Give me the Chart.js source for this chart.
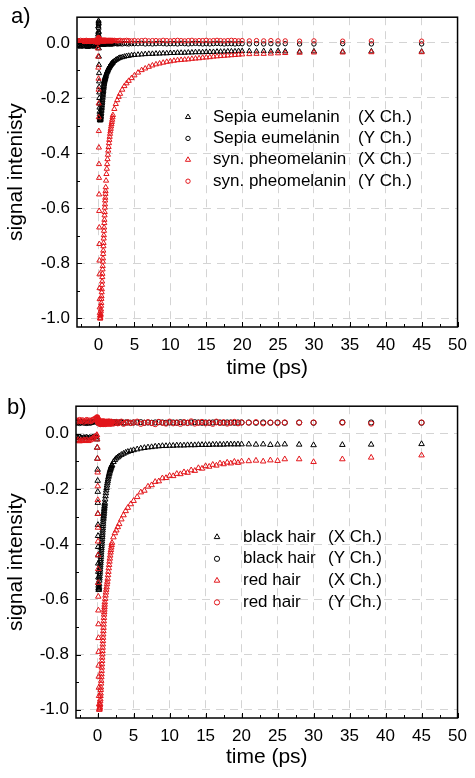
<!DOCTYPE html>
<html lang="en">
<head>
    <meta charset="UTF-8">
    <title>Signal intensity vs time</title>
    <script src="https://cdn.jsdelivr.net/npm/chart.js"></script>
    <style>
        body { margin: 0; background: #fff; }
        #wrap { position: relative; width: 475px; height: 778px; }
        canvas { position: absolute; left: 0; }
        #chartA { top: 0; }
        #chartB { top: 389px; }
    </style>
</head>
<body>
<div id="wrap">
    <canvas id="chartA" width="475" height="389"></canvas>
    <canvas id="chartB" width="475" height="389"></canvas>
</div>
<script>
    // time axis shared by all series (ps)
    // rows: pre-zero / rising edge / fast decay / decay / slow decay / tail
    const timePs = [
        -2.9, -2.7, -2.5, -2.3, -2.1, -1.9, -1.7, -1.5, -1.3, -1.1, -0.9, -0.7, -0.5, -0.3,
        -0.15, -0.1, -0.06, -0.03, 0, 0.01, 0.02, 0.03, 0.04, 0.05, 0.06, 0.07, 0.08, 0.09, 0.1, 0.11, 0.12, 0.13, 0.14, 0.15, 0.16, 0.18, 0.2, 0.22,
        0.24, 0.26, 0.28, 0.30, 0.32, 0.34, 0.36, 0.38, 0.40, 0.42, 0.44, 0.46, 0.48, 0.50, 0.52, 0.54, 0.56, 0.58, 0.60, 0.62, 0.64, 0.66, 0.68, 0.70, 0.72, 0.74, 0.76, 0.78, 0.80, 0.82, 0.84, 0.86, 0.88, 0.90, 0.92, 0.94, 0.96, 0.98, 1.00,
        1.05, 1.10, 1.15, 1.20, 1.25, 1.30, 1.35, 1.40, 1.45, 1.50, 1.55, 1.60, 1.65, 1.70, 1.75, 1.80, 1.85, 1.90, 1.95, 2.00,
        2.2, 2.4, 2.6, 2.8, 3.0, 3.3, 3.6, 3.9, 4.2, 4.6, 5.0,
        5.5, 6, 6.5, 7, 7.5, 8, 8.5, 9, 9.5, 10, 10.5, 11, 11.5, 12, 12.5, 13, 13.5, 14, 14.5, 15, 15.5, 16, 16.5, 17, 17.5, 18, 18.5, 19, 19.5, 20,
        21, 22, 23, 24, 25, 26, 28, 30, 34, 38, 45
    ];

    // panel a)
    const sepiaX = [
        -0.012, -0.010, -0.014, -0.011, -0.013, -0.010, -0.012, -0.015, -0.011, -0.013, -0.012, -0.010, -0.014, -0.011,
        -0.010, 0.000, 0.030, 0.060, 0.080, 0.070, 0.040, 0.010, -0.020, -0.050, -0.080, -0.110, -0.140, -0.160, -0.180, -0.200, -0.220, -0.235, -0.250, -0.260, -0.270, -0.275, -0.280, -0.282,
        -0.280, -0.280, -0.278, -0.275, -0.270, -0.266, -0.260, -0.255, -0.248, -0.243, -0.237, -0.232, -0.226, -0.220, -0.214, -0.208, -0.202, -0.196, -0.190, -0.185, -0.180, -0.175, -0.170, -0.165, -0.160, -0.156, -0.151, -0.147, -0.143, -0.140, -0.137, -0.134, -0.132, -0.130, -0.128, -0.126, -0.124, -0.122, -0.120,
        -0.116, -0.112, -0.108, -0.105, -0.102, -0.099, -0.096, -0.093, -0.091, -0.088, -0.086, -0.084, -0.082, -0.080, -0.078, -0.077, -0.075, -0.074, -0.072, -0.071,
        -0.066, -0.062, -0.059, -0.056, -0.054, -0.052, -0.050, -0.048, -0.047, -0.045, -0.044,
        -0.043, -0.042, -0.041, -0.040, -0.040, -0.039, -0.039, -0.038, -0.038, -0.037, -0.037, -0.036, -0.036, -0.036, -0.035, -0.035, -0.034, -0.034, -0.034, -0.033, -0.033, -0.033, -0.032, -0.032, -0.032, -0.031, -0.031, -0.031, -0.030, -0.030,
        -0.030, -0.031, -0.030, -0.031, -0.030, -0.031, -0.032, -0.031, -0.032, -0.031, -0.032
    ];
    const sepiaY = [
        -0.004, -0.006, -0.003, -0.005, -0.007, -0.004, -0.005, -0.003, -0.006, -0.004, -0.005, -0.007, -0.004, -0.003,
        0.000, 0.015, 0.035, 0.055, 0.070, 0.075, 0.065, 0.050, 0.035, 0.022, 0.012, 0.006, 0.002, 0.000, -0.002, -0.003, -0.002, 0.000, 0.001, 0.002, 0.002, 0.001, 0.000, -0.002,
        -0.003, -0.004, -0.002, -0.003, -0.004, -0.003, -0.002, -0.004, -0.003, -0.003, -0.004, -0.002, -0.003, -0.004, -0.003, -0.002, -0.003, -0.004, -0.003, -0.003, -0.004, -0.002, -0.003, -0.004, -0.003, -0.002, -0.004, -0.003, -0.003, -0.004, -0.002, -0.003, -0.004, -0.003, -0.003, -0.002, -0.004, -0.003, -0.003,
        -0.004, -0.003, -0.002, -0.003, -0.004, -0.003, -0.003, -0.002, -0.004, -0.003, -0.003, -0.004, -0.002, -0.003, -0.004, -0.003, -0.002, -0.003, -0.004, -0.003,
        -0.003, -0.002, -0.004, -0.003, -0.003, -0.004, -0.002, -0.003, -0.004, -0.003, -0.003,
        -0.003, -0.002, -0.004, -0.003, -0.004, -0.003, -0.002, -0.003, -0.004, -0.003, -0.003, -0.004, -0.002, -0.003, -0.004, -0.003, -0.002, -0.003, -0.004, -0.003, -0.004, -0.003, -0.002, -0.003, -0.004, -0.003, -0.003, -0.004, -0.003, -0.003,
        -0.004, -0.003, -0.004, -0.003, -0.004, -0.003, -0.004, -0.004, -0.003, -0.004, -0.004
    ];
    const pheoX = [
        0.004, 0.006, 0.003, 0.005, 0.004, 0.006, 0.005, 0.003, 0.005, 0.004, 0.006, 0.004, 0.005, 0.003,
        0.000, -0.020, -0.050, -0.090, -0.130, -0.170, -0.220, -0.270, -0.320, -0.380, -0.440, -0.490, -0.550, -0.610, -0.670, -0.730, -0.790, -0.840, -0.890, -0.930, -0.960, -0.980, -0.990, -1.000,
        -1.000, -0.997, -0.989, -0.984, -0.974, -0.967, -0.954, -0.944, -0.929, -0.919, -0.905, -0.894, -0.878, -0.866, -0.850, -0.838, -0.822, -0.810, -0.794, -0.782, -0.766, -0.754, -0.738, -0.726, -0.710, -0.698, -0.682, -0.670, -0.654, -0.642, -0.626, -0.614, -0.598, -0.586, -0.572, -0.562, -0.548, -0.538, -0.524,
        -0.500, -0.476, -0.457, -0.440, -0.422, -0.406, -0.391, -0.378, -0.364, -0.352, -0.341, -0.330, -0.321, -0.312, -0.303, -0.295, -0.287, -0.279, -0.270, -0.262,
        -0.240, -0.222, -0.208, -0.196, -0.185, -0.170, -0.157, -0.147, -0.138, -0.128, -0.118,
        -0.108, -0.099, -0.093, -0.087, -0.082, -0.078, -0.075, -0.072, -0.069, -0.067, -0.065, -0.063, -0.062, -0.061, -0.060, -0.058, -0.057, -0.056, -0.054, -0.053, -0.052, -0.050, -0.049, -0.048, -0.047, -0.046, -0.045, -0.044, -0.043, -0.042,
        -0.041, -0.040, -0.040, -0.039, -0.038, -0.037, -0.036, -0.035, -0.035, -0.034, -0.034
    ];
    const pheoY = [
        0.008, 0.006, 0.009, 0.007, 0.008, 0.006, 0.009, 0.007, 0.008, 0.006, 0.008, 0.007, 0.009, 0.008,
        0.009, 0.011, 0.013, 0.016, 0.018, 0.019, 0.018, 0.017, 0.016, 0.015, 0.014, 0.013, 0.012, 0.012, 0.011, 0.011, 0.010, 0.010, 0.010, 0.009, 0.009, 0.009, 0.009, 0.009,
        0.008, 0.009, 0.007, 0.008, 0.009, 0.008, 0.007, 0.008, 0.009, 0.008, 0.007, 0.009, 0.008, 0.007, 0.008, 0.009, 0.008, 0.007, 0.008, 0.009, 0.007, 0.008, 0.009, 0.008, 0.007, 0.008, 0.009, 0.008, 0.007, 0.008, 0.009, 0.007, 0.008, 0.009, 0.008, 0.007, 0.008, 0.009, 0.008,
        0.007, 0.008, 0.009, 0.008, 0.007, 0.008, 0.009, 0.007, 0.008, 0.009, 0.008, 0.007, 0.008, 0.009, 0.008, 0.007, 0.008, 0.009, 0.007, 0.008,
        0.009, 0.008, 0.007, 0.008, 0.009, 0.007, 0.008, 0.009, 0.008, 0.007, 0.008,
        0.007, 0.008, 0.009, 0.007, 0.008, 0.008, 0.007, 0.009, 0.008, 0.007, 0.008, 0.009, 0.008, 0.007, 0.008, 0.009, 0.007, 0.008, 0.008, 0.009, 0.007, 0.008, 0.009, 0.008, 0.007, 0.008, 0.009, 0.008, 0.007, 0.008,
        0.007, 0.008, 0.007, 0.008, 0.007, 0.007, 0.006, 0.007, 0.006, 0.007, 0.006
    ];

    // panel b)
    const blackHairX = [
        -0.014, -0.016, -0.013, -0.015, -0.017, -0.014, -0.015, -0.013, -0.016, -0.014, -0.015, -0.013, -0.012, -0.010,
        -0.012, -0.020, -0.050, -0.090, -0.130, -0.170, -0.210, -0.250, -0.290, -0.330, -0.370, -0.410, -0.440, -0.470, -0.500, -0.520, -0.540, -0.550, -0.560, -0.565, -0.565, -0.560, -0.555, -0.545,
        -0.532, -0.524, -0.516, -0.507, -0.500, -0.492, -0.484, -0.477, -0.469, -0.462, -0.454, -0.446, -0.438, -0.430, -0.422, -0.414, -0.406, -0.398, -0.390, -0.382, -0.374, -0.366, -0.358, -0.350, -0.342, -0.334, -0.326, -0.318, -0.310, -0.304, -0.298, -0.292, -0.286, -0.280, -0.274, -0.268, -0.262, -0.256, -0.250,
        -0.238, -0.226, -0.215, -0.205, -0.196, -0.187, -0.179, -0.172, -0.165, -0.158, -0.152, -0.146, -0.141, -0.136, -0.131, -0.127, -0.123, -0.119, -0.116, -0.113,
        -0.102, -0.095, -0.089, -0.085, -0.081, -0.076, -0.072, -0.068, -0.065, -0.062, -0.059,
        -0.056, -0.053, -0.051, -0.049, -0.048, -0.046, -0.045, -0.044, -0.044, -0.043, -0.043, -0.042, -0.042, -0.042, -0.041, -0.041, -0.041, -0.040, -0.040, -0.040, -0.040, -0.039, -0.039, -0.039, -0.039, -0.038, -0.038, -0.038, -0.038, -0.038,
        -0.038, -0.039, -0.038, -0.040, -0.039, -0.038, -0.039, -0.041, -0.040, -0.039, -0.037
    ];
    const blackHairY = [
        0.040, 0.042, 0.039, 0.041, 0.043, 0.040, 0.041, 0.039, 0.042, 0.040, 0.041, 0.043, 0.044, 0.046,
        0.048, 0.050, 0.052, 0.050, 0.048, 0.046, 0.045, 0.044, 0.043, 0.042, 0.042, 0.041, 0.041, 0.041, 0.040, 0.040, 0.040, 0.040, 0.040, 0.040, 0.040, 0.040, 0.040, 0.040,
        0.041, 0.040, 0.042, 0.041, 0.040, 0.041, 0.042, 0.040, 0.041, 0.041, 0.040, 0.042, 0.041, 0.040, 0.041, 0.042, 0.041, 0.040, 0.041, 0.041, 0.040, 0.042, 0.041, 0.040, 0.041, 0.042, 0.040, 0.041, 0.041, 0.040, 0.042, 0.041, 0.040, 0.041, 0.041, 0.042, 0.040, 0.041, 0.041,
        0.040, 0.042, 0.041, 0.040, 0.041, 0.042, 0.041, 0.040, 0.041, 0.041, 0.042, 0.040, 0.041, 0.040, 0.041, 0.042, 0.041, 0.040, 0.041, 0.041,
        0.040, 0.042, 0.041, 0.040, 0.041, 0.042, 0.040, 0.041, 0.041, 0.040, 0.041,
        0.041, 0.042, 0.040, 0.041, 0.040, 0.041, 0.042, 0.041, 0.040, 0.041, 0.041, 0.040, 0.042, 0.041, 0.040, 0.041, 0.042, 0.041, 0.040, 0.041, 0.040, 0.041, 0.042, 0.041, 0.040, 0.041, 0.041, 0.040, 0.041, 0.041,
        0.041, 0.040, 0.041, 0.040, 0.041, 0.040, 0.041, 0.040, 0.042, 0.041, 0.040
    ];
    const redHairX = [
        -0.025, -0.022, -0.027, -0.024, -0.026, -0.023, -0.025, -0.022, -0.026, -0.024, -0.021, -0.017, -0.013, -0.009,
        -0.006, -0.004, -0.020, -0.050, -0.090, -0.140, -0.190, -0.240, -0.290, -0.340, -0.390, -0.440, -0.490, -0.540, -0.590, -0.640, -0.690, -0.740, -0.790, -0.840, -0.880, -0.920, -0.950, -0.980,
        -1.000, -0.998, -0.994, -0.991, -0.984, -0.979, -0.969, -0.962, -0.950, -0.941, -0.928, -0.919, -0.905, -0.895, -0.882, -0.871, -0.859, -0.847, -0.835, -0.823, -0.811, -0.799, -0.787, -0.775, -0.763, -0.751, -0.739, -0.727, -0.715, -0.703, -0.691, -0.679, -0.667, -0.655, -0.646, -0.637, -0.628, -0.619, -0.610,
        -0.598, -0.586, -0.575, -0.565, -0.556, -0.545, -0.536, -0.525, -0.512, -0.500, -0.487, -0.475, -0.463, -0.452, -0.441, -0.430, -0.421, -0.412, -0.403, -0.395,
        -0.375, -0.360, -0.350, -0.338, -0.327, -0.310, -0.295, -0.280, -0.268, -0.255, -0.243,
        -0.229, -0.212, -0.206, -0.191, -0.186, -0.174, -0.172, -0.161, -0.160, -0.152, -0.153, -0.145, -0.146, -0.139, -0.141, -0.132, -0.134, -0.124, -0.126, -0.117, -0.119, -0.112, -0.115, -0.107, -0.110, -0.104, -0.107, -0.101, -0.105, -0.100,
        -0.099, -0.097, -0.100, -0.096, -0.098, -0.092, -0.092, -0.102, -0.092, -0.086, -0.078
    ];
    const redHairY = [
        0.048, 0.045, 0.050, 0.046, 0.049, 0.044, 0.047, 0.050, 0.045, 0.048, 0.046, 0.050, 0.052, 0.055,
        0.056, 0.058, 0.060, 0.058, 0.055, 0.052, 0.050, 0.048, 0.046, 0.045, 0.044, 0.043, 0.042, 0.042, 0.041, 0.041, 0.040, 0.040, 0.040, 0.039, 0.040, 0.039, 0.040, 0.039,
        0.042, 0.038, 0.044, 0.036, 0.041, 0.045, 0.037, 0.040, 0.043, 0.035, 0.039, 0.044, 0.038, 0.042, 0.036, 0.041, 0.045, 0.039, 0.037, 0.043, 0.040, 0.036, 0.042, 0.044, 0.038, 0.041, 0.035, 0.040, 0.043, 0.039, 0.045, 0.037, 0.041, 0.038, 0.044, 0.036, 0.040, 0.042, 0.039,
        0.035, 0.043, 0.040, 0.037, 0.044, 0.038, 0.041, 0.036, 0.042, 0.039, 0.045, 0.037, 0.040, 0.043, 0.038, 0.041, 0.036, 0.044, 0.039, 0.042,
        0.037, 0.040, 0.043, 0.038, 0.041, 0.044, 0.036, 0.040, 0.042, 0.039, 0.041,
        0.044, 0.036, 0.040, 0.042, 0.039, 0.035, 0.043, 0.040, 0.037, 0.044, 0.038, 0.041, 0.036, 0.042, 0.039, 0.045, 0.037, 0.040, 0.043, 0.038, 0.041, 0.036, 0.044, 0.039, 0.042, 0.037, 0.040, 0.043, 0.038, 0.041,
        0.040, 0.042, 0.038, 0.041, 0.039, 0.041, 0.040, 0.041, 0.040, 0.037, 0.041
    ];

    // ticks
    const xTicks = [0, 5, 10, 15, 20, 25, 30, 35, 40, 45, 50];
    const xMinorTicks = [-2.5, 2.5, 7.5, 12.5, 17.5, 22.5, 27.5, 32.5, 37.5, 42.5, 47.5];
    const yTicks = [-1.0, -0.8, -0.6, -0.4, -0.2, 0.0];
    const yMinorTicks = [-0.9, -0.7, -0.5, -0.3, -0.1];

    // legend text
    const legendA = ['Sepia eumelanin', 'Sepia eumelanin', 'syn. pheomelanin', 'syn. pheomelanin'];
    const legendB = ['black hair', 'black hair', 'red hair', 'red hair'];
    const channels = ['(X Ch.)', '(Y Ch.)', '(X Ch.)', '(Y Ch.)'];

    const FONT = '"Liberation Sans", Arial, Helvetica, sans-serif';
    const BLACK = '#000000';
    const RED = '#e3161b';
    Chart.defaults.font.family = FONT;
    Chart.defaults.color = '#000';

    function series(label, values, color, shape, radius, order) {
        if (values.length !== timePs.length) console.warn(label, values.length, timePs.length);
        return {
            label: label,
            data: timePs.map((t, i) => ({ x: t, y: values[i] })),
            showLine: false,
            pointStyle: shape,
            pointRadius: radius,
            pointHoverRadius: radius,
            pointBorderWidth: 1,
            pointBorderColor: color,
            pointBackgroundColor: 'rgba(0,0,0,0)',
            borderColor: color,
            backgroundColor: 'rgba(0,0,0,0)',
            order: order
        };
    }

    function axes(p) {
        return {
            x: {
                type: 'linear',
                min: -3,
                max: 50,
                afterBuildTicks: s => { s.ticks = xTicks.map(v => ({ value: v })); },
                afterFit: s => { s.height = p.xAxisHeight; },
                ticks: { font: { size: 17 }, color: '#000', padding: 8, autoSkip: false, maxRotation: 0, callback: v => String(v) },
                grid: { color: '#d4d4d4', lineWidth: 1, drawTicks: false },
                border: { display: false, dash: [8, 6] },
                title: { display: true, text: 'time (ps)', font: { size: 21 }, color: '#000', padding: { top: 0, bottom: 8 } }
            },
            y: {
                type: 'linear',
                min: p.yMin,
                max: p.yMax,
                afterBuildTicks: s => { s.ticks = yTicks.map(v => ({ value: v })); },
                afterFit: s => { s.width = p.yAxisWidth; },
                ticks: { font: { size: 17 }, color: '#000', padding: 7, callback: v => Number(v).toFixed(1) },
                grid: { color: '#d4d4d4', lineWidth: 1, drawTicks: false },
                border: { display: false, dash: [8, 6] },
                title: { display: true, text: p.yTitle, font: { size: 21 }, color: '#000', padding: { top: 4, bottom: 0 } }
            }
        };
    }

    // box around the plot + inward major/minor ticks
    const frameTicks = {
        id: 'frameTicks',
        afterDraw(chart) {
            const { ctx, chartArea: a, scales: { x, y } } = chart;
            ctx.save();
            ctx.strokeStyle = '#000';
            ctx.lineWidth = 1;
            ctx.beginPath();
            xTicks.forEach(v => { const px = Math.round(x.getPixelForValue(v)) + 0.5; ctx.moveTo(px, a.bottom); ctx.lineTo(px, a.bottom - 5); });
            xMinorTicks.forEach(v => { const px = Math.round(x.getPixelForValue(v)) + 0.5; ctx.moveTo(px, a.bottom); ctx.lineTo(px, a.bottom - 3); });
            yTicks.forEach(v => { const py = Math.round(y.getPixelForValue(v)) + 0.5; ctx.moveTo(a.left, py); ctx.lineTo(a.left + 5, py); });
            yMinorTicks.forEach(v => { const py = Math.round(y.getPixelForValue(v)) + 0.5; ctx.moveTo(a.left, py); ctx.lineTo(a.left + 3, py); });
            ctx.stroke();
            ctx.lineWidth = 1.5;
            ctx.strokeRect(a.left, a.top, a.right - a.left, a.bottom - a.top);
            ctx.restore();
        }
    };

    // panel letter and the two-column legend
    function panelDecor(p) {
        return {
            id: 'panelDecor',
            afterDraw(chart) {
                const ctx = chart.ctx;
                ctx.save();
                ctx.fillStyle = '#000';
                ctx.font = '22px ' + FONT;
                ctx.textBaseline = 'alphabetic';
                ctx.fillText(p.panel, p.panelX, p.panelY);

                ctx.font = '17px ' + FONT;
                ctx.textBaseline = 'middle';
                p.names.forEach((name, i) => {
                    const ds = chart.data.datasets[i];
                    const yy = p.legendY + i * p.legendGap;
                    ctx.fillStyle = 'rgba(0,0,0,0)';
                    ctx.strokeStyle = ds.pointBorderColor;
                    ctx.lineWidth = 1;
                    Chart.helpers.drawPoint(ctx, { pointStyle: ds.pointStyle, radius: ds.pointRadius, borderWidth: 1, rotation: 0 }, p.markerX, yy);
                    ctx.fillStyle = '#000';
                    ctx.fillText(name, p.nameX, yy);
                    ctx.fillText(channels[i], p.chanX, yy);
                });
                ctx.restore();
            }
        };
    }

    function makeChart(id, p, sets) {
        return new Chart(document.getElementById(id), {
            type: 'scatter',
            data: { datasets: sets },
            options: {
                responsive: false,
                animation: false,
                devicePixelRatio: 1,
                layout: { padding: { left: 0, top: p.top, right: p.right, bottom: 0 } },
                plugins: { legend: { display: false }, tooltip: { enabled: false } },
                scales: axes(p)
            },
            plugins: [frameTicks, panelDecor(p)]
        });
    }

    makeChart('chartA', {
        yMin: -1.031, yMax: 0.093, yTitle: 'signal intenisty',
        top: 16, right: 16, xAxisHeight: 62, yAxisWidth: 77,
        panel: 'a)', panelX: 11, panelY: 23,
        names: legendA, markerX: 188, nameX: 213, chanX: 358, legendY: 117, legendGap: 21.4
    }, [
        series('Sepia eumelanin (X Ch.)', sepiaX, BLACK, 'triangle', 3, 4),
        series('Sepia eumelanin (Y Ch.)', sepiaY, BLACK, 'circle', 2.2, 3),
        series('syn. pheomelanin (X Ch.)', pheoX, RED, 'triangle', 3, 2),
        series('syn. pheomelanin (Y Ch.)', pheoY, RED, 'circle', 2.2, 1)
    ]);

    makeChart('chartB', {
        yMin: -1.03, yMax: 0.1, yTitle: 'signal intensity',
        top: 16, right: 14, xAxisHeight: 60, yAxisWidth: 76,
        panel: 'b)', panelX: 7, panelY: 25,
        names: legendB, markerX: 217, nameX: 243, chanX: 328, legendY: 148, legendGap: 21.8
    }, [
        series('black hair (X Ch.)', blackHairX, BLACK, 'triangle', 3.2, 4),
        series('black hair (Y Ch.)', blackHairY, BLACK, 'circle', 2.6, 3),
        series('red hair (X Ch.)', redHairX, RED, 'triangle', 3.2, 2),
        series('red hair (Y Ch.)', redHairY, RED, 'circle', 2.6, 1)
    ]);
</script>
</body>
</html>
